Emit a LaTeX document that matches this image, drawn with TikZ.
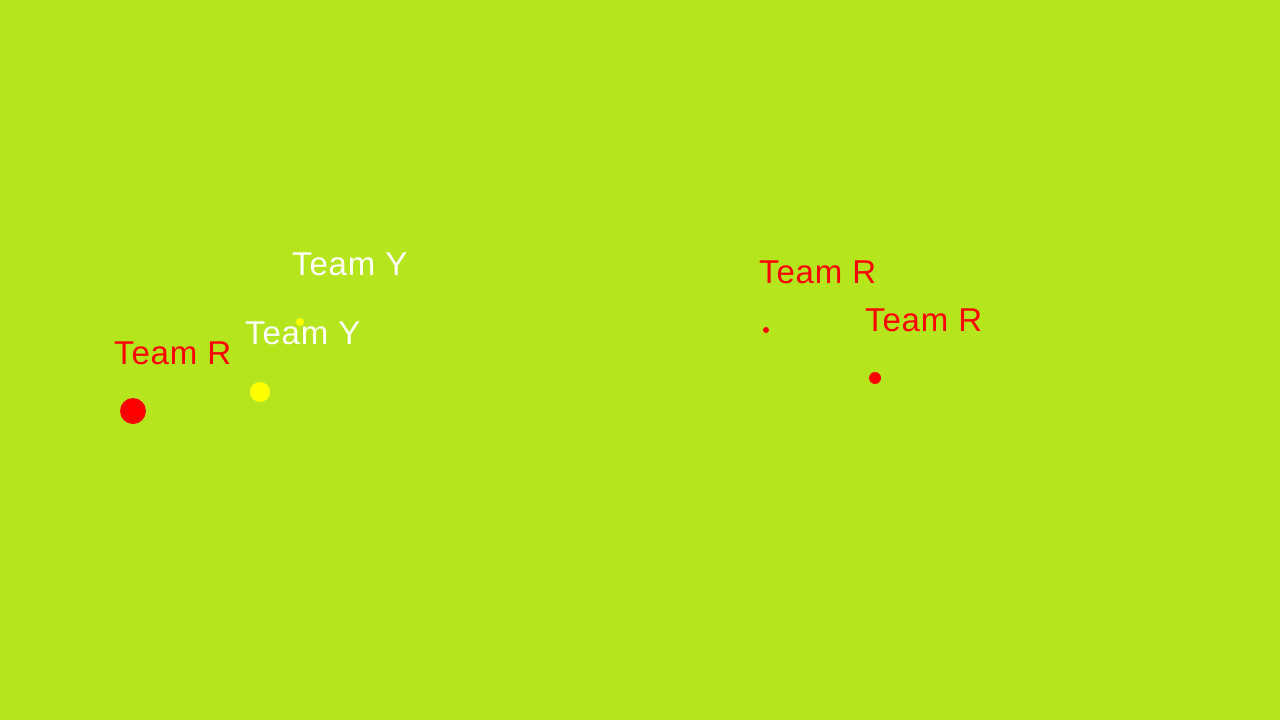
\documentclass[tikz,border=0pt]{standalone}
\usepackage{fontspec}
\setmainfont{Liberation Sans}[LetterSpace=2.5]
\definecolor{bg}{RGB}{181,230,29}
\definecolor{tred}{RGB}{255,0,0}
\definecolor{tyel}{RGB}{255,255,0}
\begin{document}
\begin{tikzpicture}[x=1pt,y=-1pt,
  lbl/.style={anchor=base west,inner sep=0pt,font=\fontsize{33}{33}\selectfont},
  redlbl/.style={lbl,text=tred},
  whitelbl/.style={lbl,text=white},
  reddot/.style={circle,fill=tred,inner sep=0pt},
  yeldot/.style={circle,fill=tyel,inner sep=0pt}]
\fill[bg] (0,0) rectangle (1280,720);
\useasboundingbox (0,0) rectangle (1280,720);
\node[redlbl] (tr1) at (114,364) {Team R};
\node[whitelbl] (ty1) at (292,275) {Team Y};
\node[whitelbl] (ty2) at (245,344) {Team Y};
\node[redlbl] (tr2) at (759,283) {Team R};
\node[redlbl] (tr3) at (865,331) {Team R};
\node[reddot,minimum size=26pt] (d1) at (133,411) {};
\node[yeldot,minimum size=20pt] (d2) at (260,392) {};
\node[yeldot,minimum size=8pt] (d3) at (300,322) {};
\node[reddot,minimum size=6pt] (d4) at (766,330) {};
\node[reddot,minimum size=12pt] (d5) at (875,378) {};
\end{tikzpicture}
\end{document}
